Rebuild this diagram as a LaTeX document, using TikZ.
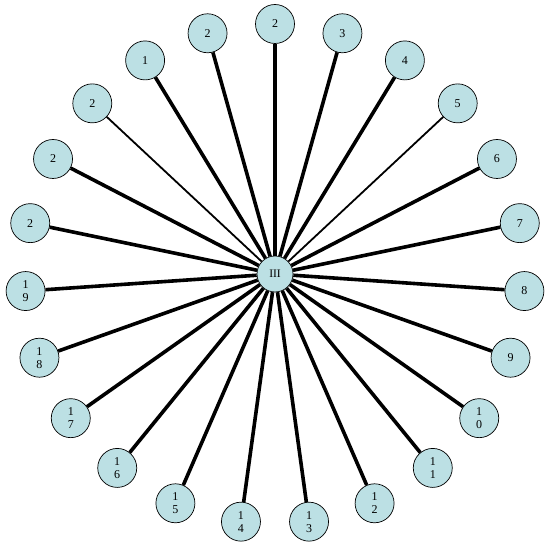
\documentclass[tikz,border=0pt]{standalone}
\usepackage{fontspec}
\setmainfont{Liberation Serif}
\usetikzlibrary{positioning}
\definecolor{nodeblue}{RGB}{188,224,228}

\begin{document}
\begin{tikzpicture}[x=1pt, y=1pt,
  hub/.style={circle, draw, line width=0.7pt, fill=nodeblue, minimum size=36pt, inner sep=0pt,
    font=\fontsize{11.5}{13}\selectfont},
  leaf/.style={circle, draw, line width=0.7pt, fill=nodeblue, minimum size=39pt, inner sep=0pt,
    align=center, font=\fontsize{12}{13}\selectfont}]
  \useasboundingbox (0,0) rectangle (551,548);
  % centre node
  \node[hub] (hub) at (275,274) {III};
  % ring of 23 leaves, clockwise from the top
  \foreach \lab/\lw [count=\i from 0] in {2/3.6, 3/3.6, 4/3.6, 5/1.8, 6/3.6, 7/3.6,
      8/3.6, 9/3.6, {1\\0}/3.6, {1\\1}/3.6, {1\\2}/3.6, {1\\3}/3.6, {1\\4}/3.6,
      {1\\5}/3.6, {1\\6}/3.6, {1\\7}/3.6, {1\\8}/3.6, {1\\9}/3.6,
      2/3.6, 2/3.6, 2/1.8, 1/3.6, 2/3.6} {
    \pgfmathsetmacro{\ang}{90-\i*360/23}
    \node[leaf] (n\i) at ([shift={(\ang:250)}]hub.center) {\lab};
    \draw[line width=\lw pt] (hub) -- (n\i);
  }
\end{tikzpicture}
\end{document}
